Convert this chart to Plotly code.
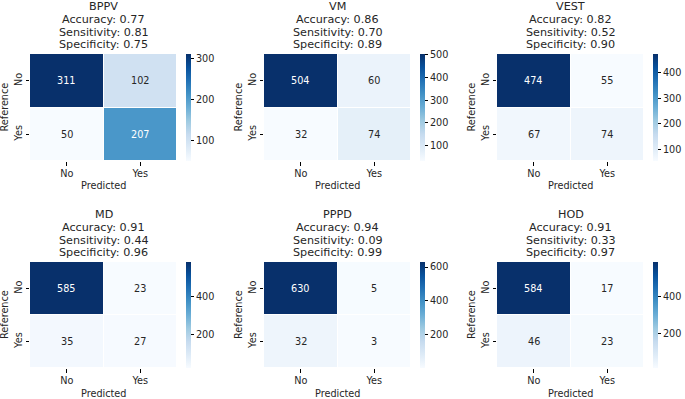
import plotly.graph_objects as go

# ---- data ----
models = ["BPPV", "VM", "VEST", "MD", "PPPD", "HOD"]
accuracy = ["0.77", "0.86", "0.82", "0.91", "0.94", "0.91"]
sensitivity = ["0.81", "0.70", "0.52", "0.44", "0.09", "0.33"]
specificity = ["0.75", "0.89", "0.90", "0.96", "0.99", "0.97"]
# confusion matrices: rows = Reference (No, Yes), cols = Predicted (No, Yes)
cm_bppv = [[311, 102], [50, 207]]
cm_vm = [[504, 60], [32, 74]]
cm_vest = [[474, 55], [67, 74]]
cm_md = [[585, 23], [35, 27]]
cm_pppd = [[630, 5], [32, 3]]
cm_hod = [[584, 17], [46, 23]]
matrices = [cm_bppv, cm_vm, cm_vest, cm_md, cm_pppd, cm_hod]
labels = ["No", "Yes"]
cbar_dtick = [100, 100, 100, 200, 200, 200]

# ---- layout constants ----
W, H = 685, 399
cols_x = [(30, 177), (264, 411), (497, 644)]
rows_y = [(54, 161), (262, 368)]
cb_gap = 9
FONT = "DejaVu Sans"
TXT = "#262626"
blues = [[0.0, "#f7fbff"], [0.125, "#deebf7"], [0.25, "#c6dbef"], [0.375, "#9ecae1"],
         [0.5, "#6baed6"], [0.625, "#4292c6"], [0.75, "#2171b5"], [0.875, "#08519c"],
         [1.0, "#08306b"]]

fig = go.Figure()
annotations = []
layout = {}
for i, (name, cm) in enumerate(zip(models, matrices)):
    r, c = divmod(i, 3)
    x0, x1 = cols_x[c]
    y0, y1 = rows_y[r]
    ax = "" if i == 0 else str(i + 1)
    xa, ya = "x" + ax, "y" + ax
    zmin = min(min(row) for row in cm)
    zmax = max(max(row) for row in cm)
    fig.add_trace(go.Heatmap(
        z=cm, x=labels, y=labels, xaxis=xa, yaxis=ya,
        colorscale=blues, xgap=1, ygap=1, hoverinfo="z",
        colorbar=dict(
            x=(x1 + cb_gap) / W, xanchor="left", xpad=0, ypad=0,
            y=1 - (y0 + y1) / 2 / H, yanchor="middle",
            len=(y1 - y0) / H, lenmode="fraction",
            thickness=5, thicknessmode="pixels", outlinewidth=0,
            ticks="outside", ticklen=3.5, tickwidth=0.8, tickcolor="black",
            tick0=0, dtick=cbar_dtick[i],
            tickfont=dict(family=FONT, size=9.7, color=TXT),
        ),
    ))
    layout["xaxis" + ax] = dict(
        domain=[x0 / W, x1 / W], anchor=ya, showgrid=False, zeroline=False,
        automargin=False,
        ticks="outside", ticklen=3.5, tickwidth=0.8, tickcolor="black",
        tickfont=dict(family=FONT, size=9.7, color=TXT), fixedrange=True,
    )
    layout["yaxis" + ax] = dict(
        domain=[1 - y1 / H, 1 - y0 / H], anchor=xa, showgrid=False, zeroline=False,
        automargin=False,
        autorange="reversed", ticks="outside", ticklen=3.5, tickwidth=0.8,
        tickcolor="black", tickangle=-90,
        tickfont=dict(family=FONT, size=9.7, color=TXT), fixedrange=True,
    )
    # cell values
    for ri, row in enumerate(cm):
        for ci, v in enumerate(row):
            frac = (v - zmin) / (zmax - zmin) if zmax > zmin else 0
            annotations.append(dict(
                x=labels[ci], y=labels[ri], xref=xa, yref=ya, text=str(v),
                showarrow=False, font=dict(family=FONT, size=9.7,
                                           color="white" if frac > 0.5 else TXT)))
    # title lines
    lines = [name, "Accuracy: " + accuracy[i], "Sensitivity: " + sensitivity[i],
             "Specificity: " + specificity[i]]
    offsets = [48, 35, 22, 9.5]
    for line, off in zip(lines, offsets):
        annotations.append(dict(
            x=(x0 + x1) / 2 / W, y=1 - (y0 - off) / H, xref="paper", yref="paper",
            xanchor="center", yanchor="middle", text=line, showarrow=False,
            borderpad=0, font=dict(family=FONT, size=11.2, color=TXT)))
    # axis labels
    annotations.append(dict(
        x=0.5, y=0, xref=xa + " domain", yref=ya + " domain", yshift=-25,
        xanchor="center", yanchor="middle", text="Predicted", showarrow=False,
        font=dict(family=FONT, size=9.7, color=TXT)))
    annotations.append(dict(
        x=0, y=0.5, xref=xa + " domain", yref=ya + " domain", xshift=-26,
        xanchor="center", yanchor="middle", text="Reference", textangle=-90,
        showarrow=False, font=dict(family=FONT, size=9.7, color=TXT)))

fig.update_layout(
    width=W, height=H, margin=dict(l=0, r=0, t=0, b=0),
    paper_bgcolor="white", plot_bgcolor="white",
    font=dict(family=FONT, color=TXT), annotations=annotations, **layout,
)
fig.write_html("out.html", config={"displayModeBar": False},
               post_script="document.body.style.margin='0px';document.body.style.overflow='hidden';")
